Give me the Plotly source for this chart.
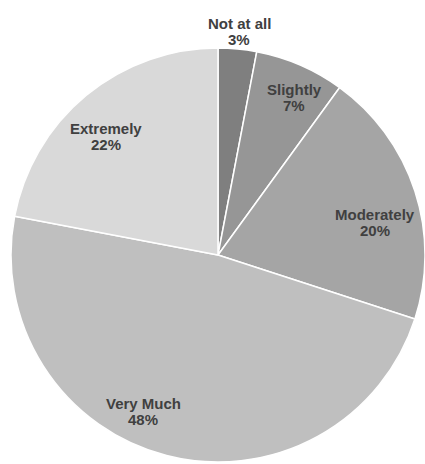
import math
import plotly.graph_objects as go

categories = ["Not at all", "Slightly", "Moderately", "Very Much", "Extremely"]
values = [3, 7, 20, 48, 22]
colors = ["#7f7f7f", "#969696", "#a5a5a5", "#bfbfbf", "#d9d9d9"]

# label placement (layout only): angle offset from slice mid-angle (deg), radius fraction
label_angle_offset = [0.0, 2.4, 6.3, 11.1, -3.9]
label_radius = [1.084, 0.847, 0.777, 0.838, 0.787]

FONT = "Liberation Sans, Arial, sans-serif"
TEXT_COLOR = "#404040"

fig = go.Figure(go.Pie(
    labels=categories,
    values=values,
    sort=False,
    direction="clockwise",
    rotation=0,
    marker=dict(colors=colors, line=dict(color="white", width=1.5)),
    textinfo="none",
    showlegend=False,
    hoverinfo="label+percent",
))

total = sum(values)
annotations = []
cum = 0.0
for cat, v, off, rf in zip(categories, values, label_angle_offset, label_radius):
    mid = (cum + v / 2) / total * 360.0
    cum += v
    a = math.radians(mid + off)
    x = 0.5 + 0.5 * rf * math.sin(a)
    y = 0.5 + 0.5 * rf * math.cos(a)
    pct = f"{round(v / total * 100)}%"
    for txt, shift in ((cat, 8), (pct, -8)):
        annotations.append(dict(
            x=x, y=y, xref="paper", yref="paper",
            text=f"<b>{txt}</b>", showarrow=False,
            xanchor="center", yanchor="middle", yshift=shift,
            font=dict(family=FONT, size=15, color=TEXT_COLOR),
        ))

fig.update_layout(
    width=425, height=464,
    margin=dict(l=11, r=0, t=48, b=2),
    paper_bgcolor="white",
    plot_bgcolor="white",
    annotations=annotations,
)

fig.write_html(
    "out.html",
    config={"displayModeBar": False},
    post_script="document.body.style.margin='0';document.body.style.overflow='hidden';",
)
